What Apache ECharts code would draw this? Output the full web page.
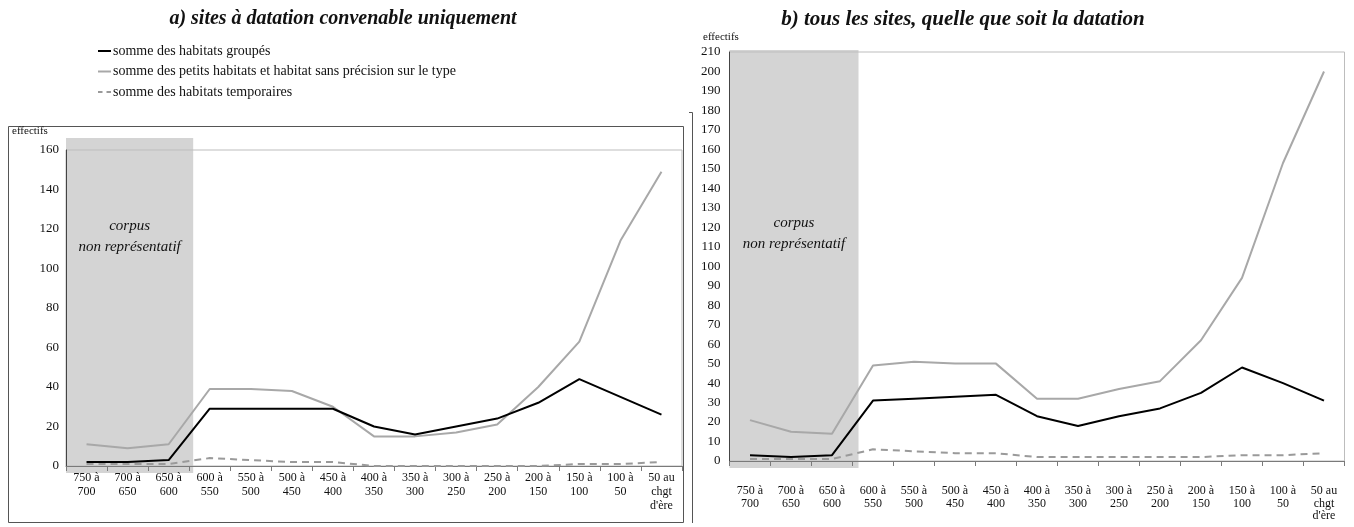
<!DOCTYPE html>
<html>
<head>
<meta charset="utf-8">
<script src="https://cdn.jsdelivr.net/npm/echarts@6/dist/echarts.min.js"></script>
<style>
html,body{margin:0;padding:0;background:#fff;}
#chart{width:1354px;height:527px;}
</style>
</head>
<body>
<div id="chart"></div>
<script>
const categories = ['750 à\n700','700 à\n650','650 à\n600','600 à\n550','550 à\n500','500 à\n450','450 à\n400','400 à\n350','350 à\n300','300 à\n250','250 à\n200','200 à\n150','150 à\n100','100 à\n50',"50 au\nchgt\nd'ère"];
const seriesNames = ['somme des habitats groupés','somme des petits habitats et habitat sans précision sur le type','somme des habitats temporaires'];
// a) sites à datation convenable uniquement
const groupesA = [2,2,3,29,29,29,29,20,16,20,24,32,44,35,26];
const petitsA = [11,9,11,39,39,38,30,15,15,17,21,40,63,114,149];
const temporairesA = [1,1,1,4,3,2,2,0,0,0,0,0,1,1,2];
// b) tous les sites
const groupesB = [3,2,3,31,32,33,34,23,18,23,27,35,48,40,31];
const petitsB = [21,15,14,49,51,50,50,32,32,37,41,62,94,153,200];
const temporairesB = [1,1,1,6,5,4,4,2,2,2,2,2,3,3,4];
const titles = ['a) sites à datation convenable uniquement','b) tous les sites, quelle que soit la datation'];
const yTitle = 'effectifs';
const shadeText = 'corpus\nnon représentatif';
const shadeLastIndex = 2;

const FONT = 'Liberation Serif';
const chart = echarts.init(document.getElementById('chart'));

const lineStyles = [
  {color:'#000000', width:2, type:'solid'},
  {color:'#a8a8a8', width:2, type:'solid'},
  {color:'#9a9a9a', width:2, type:[7,5]}
];
const legendIcons = ['path://M0,0h13v2h-13z','path://M0,0h13v2h-13z','path://M0,0h4.5v2h-4.5zM8.5,0h4.5v2h-4.5z'];
function mk(name, data, idx, styleIdx){
  return {
    name, type:'line', data, xAxisIndex:idx, yAxisIndex:idx,
    symbol:'none', showSymbol:false, smooth:false,
    lineStyle: lineStyles[styleIdx], itemStyle:{color:lineStyles[styleIdx].color},
    z: styleIdx===0 ? 5 : (styleIdx===1 ? 4 : 3)
  };
}
function xAx(idx, margin, lh){
  return {
    type:'category', gridIndex:idx, data:categories, boundaryGap:true,
    axisLine:{show:true, lineStyle:{color:'#7a7a7a', width:1}},
    axisTick:{show:true, alignWithLabel:false, length:5, lineStyle:{color:'#7a7a7a'}},
    axisLabel:{interval:0, margin:margin, color:'#111', fontFamily:FONT, fontSize:12, lineHeight:lh},
    splitLine:{show:false}
  };
}
function yAx(idx, max, interval, margin){
  return {
    type:'value', gridIndex:idx, min:0, max:max, interval:interval,
    axisLine:{show:true, lineStyle:{color:'#444', width:1}},
    axisTick:{show:false},
    axisLabel:{margin:margin, color:'#111', fontFamily:FONT, fontSize:13},
    splitLine:{show:false}
  };
}

chart.setOption({
  animation:false,
  backgroundColor:'#ffffff',
  title:[
    {text:titles[0], left:338, top:4, textAlign:'center',
     textStyle:{fontFamily:FONT, fontStyle:'italic', fontWeight:'bold', fontSize:20, color:'#111'}},
    {text:titles[1], left:958, top:4, textAlign:'center',
     textStyle:{fontFamily:FONT, fontStyle:'italic', fontWeight:'bold', fontSize:21, color:'#111'}}
  ],
  legend:{
    data:seriesNames.map((n,i)=>({name:n, icon:legendIcons[i], itemStyle:{color:lineStyles[i].color}})),
    orient:'vertical', left:98, top:43,
    itemWidth:13, itemHeight:2, itemGap:4.5, padding:0,
    textStyle:{fontFamily:FONT, fontSize:14, color:'#111', lineHeight:16, padding:[0,0,0,-3]}
  },
  grid:[
    {left:66, right:672, top:150, bottom:61, show:true, borderColor:'#bdbdbd', borderWidth:1, backgroundColor:'transparent'},
    {left:729.5, right:9.5, top:52, bottom:66, show:true, borderColor:'#bdbdbd', borderWidth:1, backgroundColor:'transparent'}
  ],
  xAxis:[xAx(0,5,14), xAx(1,24,12.5)],
  yAxis:[yAx(0,160,20,7), yAx(1,210,10,9)],
  series:[
    mk(seriesNames[0], groupesA, 0, 0),
    mk(seriesNames[1], petitsA, 0, 1),
    mk(seriesNames[2], temporairesA, 0, 2),
    mk(seriesNames[0], groupesB, 1, 0),
    mk(seriesNames[1], petitsB, 1, 1),
    mk(seriesNames[2], temporairesB, 1, 2)
  ]
});

function shade(idx, ymax, topExtra, textValue, rightExtra){
  const c0 = chart.convertToPixel({xAxisIndex:idx}, 0);
  const c1 = chart.convertToPixel({xAxisIndex:idx}, 1);
  const cl = chart.convertToPixel({xAxisIndex:idx}, shadeLastIndex);
  const half = (c1 - c0)/2;
  const yTop = chart.convertToPixel({yAxisIndex:idx}, ymax);
  const yBot = chart.convertToPixel({yAxisIndex:idx}, 0);
  const x0 = c0 - half, x1 = cl + half + rightExtra;
  const yMid = chart.convertToPixel({yAxisIndex:idx}, textValue);
  return [
    {type:'rect', z:-10, silent:true, shape:{x:x0, y:yTop-topExtra, width:x1-x0, height:(yBot+7)-(yTop-topExtra)},
     style:{fill:'#d4d4d4'}},
    {type:'text', z:10, silent:true, x:(x0+x1)/2, y:yMid,
     style:{text:shadeText, fill:'#111', font:'italic 15px "Liberation Serif"', align:'center', verticalAlign:'middle', lineHeight:21}}
  ];
}
const g = [];
g.push(...shade(0,160,12,116,4));
g.push(...shade(1,210,2,117,6));
g.push({type:'rect', silent:true, z:-20, shape:{x:8.5, y:126.5, width:675, height:396}, style:{fill:'none', stroke:'#555', lineWidth:1}});
g.push({type:'polyline', silent:true, z:-20, shape:{points:[[689,112.5],[692.5,112.5],[692.5,523]]}, style:{fill:'none', stroke:'#555', lineWidth:1}});
g.push({type:'text', silent:true, x:12, y:131, style:{text:yTitle, fill:'#111', font:'11px "Liberation Serif"', verticalAlign:'middle'}});
g.push({type:'text', silent:true, x:703, y:37, style:{text:yTitle, fill:'#111', font:'11px "Liberation Serif"', verticalAlign:'middle'}});
chart.setOption({graphic:g});
</script>
</body>
</html>
